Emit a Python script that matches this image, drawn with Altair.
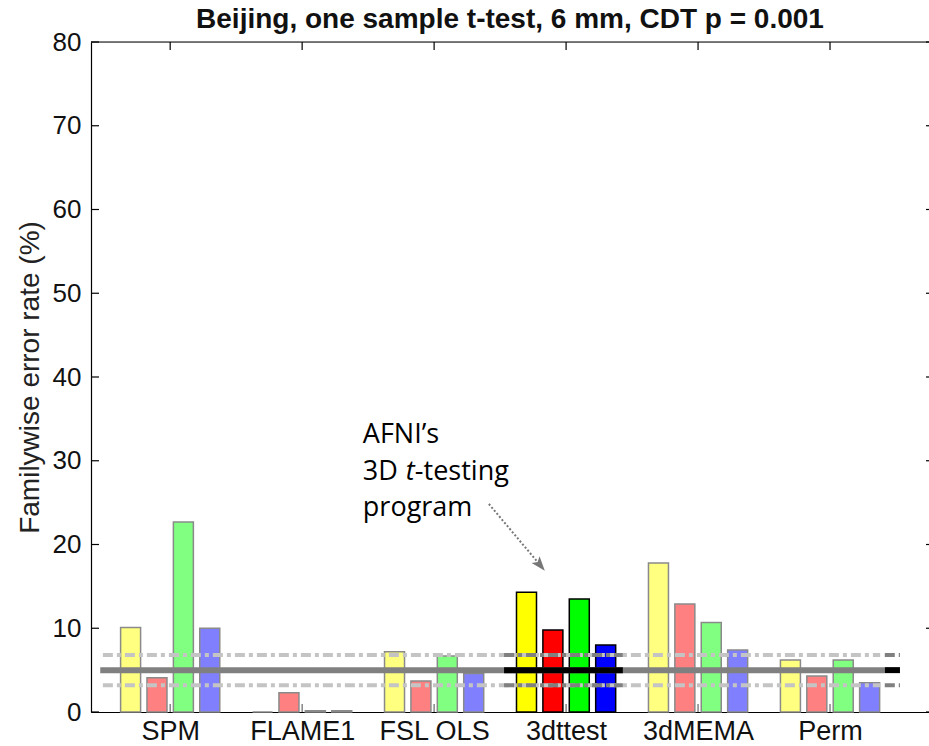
import json
import altair as alt
import pandas as pd

# ---------------- data ----------------
methods = ["SPM", "FLAME1", "FSL OLS", "3dttest", "3dMEMA", "Perm"]
series = ["yellow", "red", "green", "blue"]
yellow = [10.1, 0.0, 7.2, 14.3, 17.8, 6.2]
red = [4.1, 2.3, 3.7, 9.8, 12.9, 4.3]
green = [22.7, 0.15, 6.7, 13.5, 10.7, 6.2]
blue = [10.0, 0.15, 4.6, 8.0, 7.4, 3.5]
highlight = "3dttest"
nominal_rate = 5.0
ci_low, ci_high = 3.2, 6.8
y_ticks = [0, 10, 20, 30, 40, 50, 60, 70, 80]
title_text = "Beijing, one sample t-test, 6 mm, CDT p = 0.001"
y_title = "Familywise error rate (%)"

# ---------------- layout constants ----------------
X_MIN, X_MAX = 0.4, 6.75
Y_MIN, Y_MAX = 0.0, 80.0
W, H = 838, 670
PX_X = W / (X_MAX - X_MIN)
PX_Y = H / (Y_MAX - Y_MIN)
BAR_STEP = 0.2

pale = {"yellow": "#ffff80", "red": "#ff8080", "green": "#80ff80", "blue": "#8080ff"}
full = {"yellow": "#ffff00", "red": "#ff0000", "green": "#00ff00", "blue": "#0000ff"}

rows = []
vals = {"yellow": yellow, "red": red, "green": green, "blue": blue}
for i, m in enumerate(methods):
    for k, s in enumerate(series):
        hi = m == highlight
        rows.append({
            "method": m,
            "x": i + 1 + (k - 1.5) * BAR_STEP,
            "value": vals[s][i],
            "fill": full[s] if hi else pale[s],
            "edge": "#000000" if hi else "#8a8a8a",
        })
bars_df = pd.DataFrame(rows)

xs = alt.Scale(domain=[X_MIN, X_MAX], nice=False, zero=False, padding=0)
ys = alt.Scale(domain=[Y_MIN, Y_MAX], nice=False, padding=0)

label_expr = json.dumps(methods) + "[datum.value - 1]"

bars = alt.Chart(bars_df).mark_bar(size=20, strokeWidth=1.5).encode(
    x=alt.X("x:Q", scale=xs, axis=alt.Axis(
        values=list(range(1, len(methods) + 1)), labelExpr=label_expr,
        title=None, grid=False, ticks=False, domainColor="black", domainWidth=1.2,
        labelFont="Liberation Sans", labelFontSize=27, labelColor="#111",
        labelPadding=6)),
    y=alt.Y("value:Q", scale=ys, axis=alt.Axis(
        values=y_ticks, title=y_title, grid=False, ticks=False,
        domainColor="black", domainWidth=1.2,
        labelFont="Liberation Sans", labelFontSize=26, labelColor="#111",
        labelPadding=10, titleFont="Liberation Sans", titleFontSize=28,
        titleFontWeight="normal", titleColor="#222", titlePadding=8)),
    fill=alt.Fill("fill:N", scale=None),
    stroke=alt.Stroke("edge:N", scale=None),
)

# reference lines (nominal 5% and its confidence band)
hl_lo, hl_hi = 3.53, 4.43
end_lo, end_hi = 6.415, 6.53
solid_df = pd.DataFrame([
    {"x": 0.47, "x2": end_lo, "y": nominal_rate, "c": "#808080"},
    {"x": hl_lo, "x2": hl_hi, "y": nominal_rate, "c": "#000000"},
    {"x": end_lo, "x2": end_hi, "y": nominal_rate, "c": "#000000"},
])
dash_df = pd.DataFrame(
    [{"x": 0.49, "x2": 6.38, "y": v, "c": "#c4c4c4"} for v in (ci_low, ci_high)]
    + [{"x": hl_lo, "x2": hl_hi, "y": v, "c": "#808080"} for v in (ci_low, ci_high)]
    + [{"x": end_lo, "x2": end_hi, "y": v, "c": "#808080"} for v in (ci_low, ci_high)]
)

solid = alt.Chart(solid_df).mark_rule(strokeWidth=6).encode(
    x=alt.X("x:Q", scale=xs), x2="x2:Q", y=alt.Y("y:Q", scale=ys),
    color=alt.Color("c:N", scale=None))
dashed = alt.Chart(dash_df).mark_rule(strokeWidth=4, strokeDash=[10, 4, 4, 4]).encode(
    x=alt.X("x:Q", scale=xs), x2="x2:Q", y=alt.Y("y:Q", scale=ys),
    color=alt.Color("c:N", scale=None))

# frame: top border and inward ticks
tick_len_x = 8 / PX_X
tick_len_y = 8 / PX_Y
frame_df = pd.DataFrame(
    [{"x": X_MIN, "x2": X_MAX, "y": Y_MAX, "y2": Y_MAX, "c": "black"}]
    + [{"x": X_MIN, "x2": X_MIN + tick_len_x, "y": t, "y2": t, "c": "black"} for t in y_ticks]
    + [{"x": X_MAX - 3 / PX_X, "x2": X_MAX, "y": t, "y2": t, "c": "black"} for t in y_ticks]
    + [{"x": p, "x2": p, "y": Y_MAX, "y2": Y_MAX - tick_len_y, "c": "black"} for p in range(1, len(methods) + 1)]
    + [{"x": p, "x2": p, "y": Y_MIN, "y2": Y_MIN + tick_len_y, "c": "#666666"} for p in range(1, len(methods) + 1)]
)
frame = alt.Chart(frame_df).mark_rule(strokeWidth=1.2).encode(
    x=alt.X("x:Q", scale=xs), x2="x2:Q",
    y=alt.Y("y:Q", scale=ys), y2="y2:Q",
    color=alt.Color("c:N", scale=None))

# annotation
ann_x = 2.46
ann_font = "Open Sans"
ann_size = 27
ann_df = pd.DataFrame([
    {"x": ann_x, "y": 32.1, "t": "AFNI\u2019s", "dx": 0, "style": "normal"},
    {"x": ann_x, "y": 27.7, "t": "3D", "dx": 0, "style": "normal"},
    {"x": ann_x, "y": 27.7, "t": "t", "dx": 43, "style": "italic"},
    {"x": ann_x, "y": 27.7, "t": "-testing", "dx": 52, "style": "normal"},
    {"x": ann_x, "y": 23.4, "t": "program", "dx": 0, "style": "normal"},
])
ann_layers = []
for _, r in ann_df.iterrows():
    ann_layers.append(
        alt.Chart(pd.DataFrame([r])).mark_text(
            align="left", baseline="alphabetic", font=ann_font, fontSize=ann_size,
            fontStyle=r["style"], dx=int(r["dx"]), color="black").encode(
            x=alt.X("x:Q", scale=xs), y=alt.Y("y:Q", scale=ys), text="t:N"))

arrow_df = pd.DataFrame([{"x": 3.415, "y": 24.84, "x2": 3.784, "y2": 17.91}])
arrow_line = alt.Chart(arrow_df).mark_rule(strokeWidth=2, strokeDash=[2, 2], color="#777777").encode(
    x=alt.X("x:Q", scale=xs), y=alt.Y("y:Q", scale=ys), x2="x2:Q", y2="y2:Q")
head_df = pd.DataFrame([{"x": 3.80, "y": 17.61}])
arrow_head = alt.Chart(head_df).mark_point(
    shape="M0,-1 L0.65,0.8 L0,0.4 L-0.65,0.8 Z", size=256, angle=140,
    filled=True, color="#777777", opacity=1).encode(
    x=alt.X("x:Q", scale=xs), y=alt.Y("y:Q", scale=ys))

chart = alt.layer(bars, dashed, solid, frame, *ann_layers, arrow_line, arrow_head).properties(
    width=W, height=H,
    autosize=alt.AutoSizeParams(type="none"),
    padding={"left": 91, "top": 42, "right": 0, "bottom": 34},
    title=alt.TitleParams(title_text, font="Liberation Sans", fontSize=28,
                          fontWeight="bold", anchor="middle", color="#111",
                          offset=4, dy=9),
).configure_view(stroke=None).configure(background="white")

chart.save("out.html", embed_options={"renderer": "svg", "actions": False})
